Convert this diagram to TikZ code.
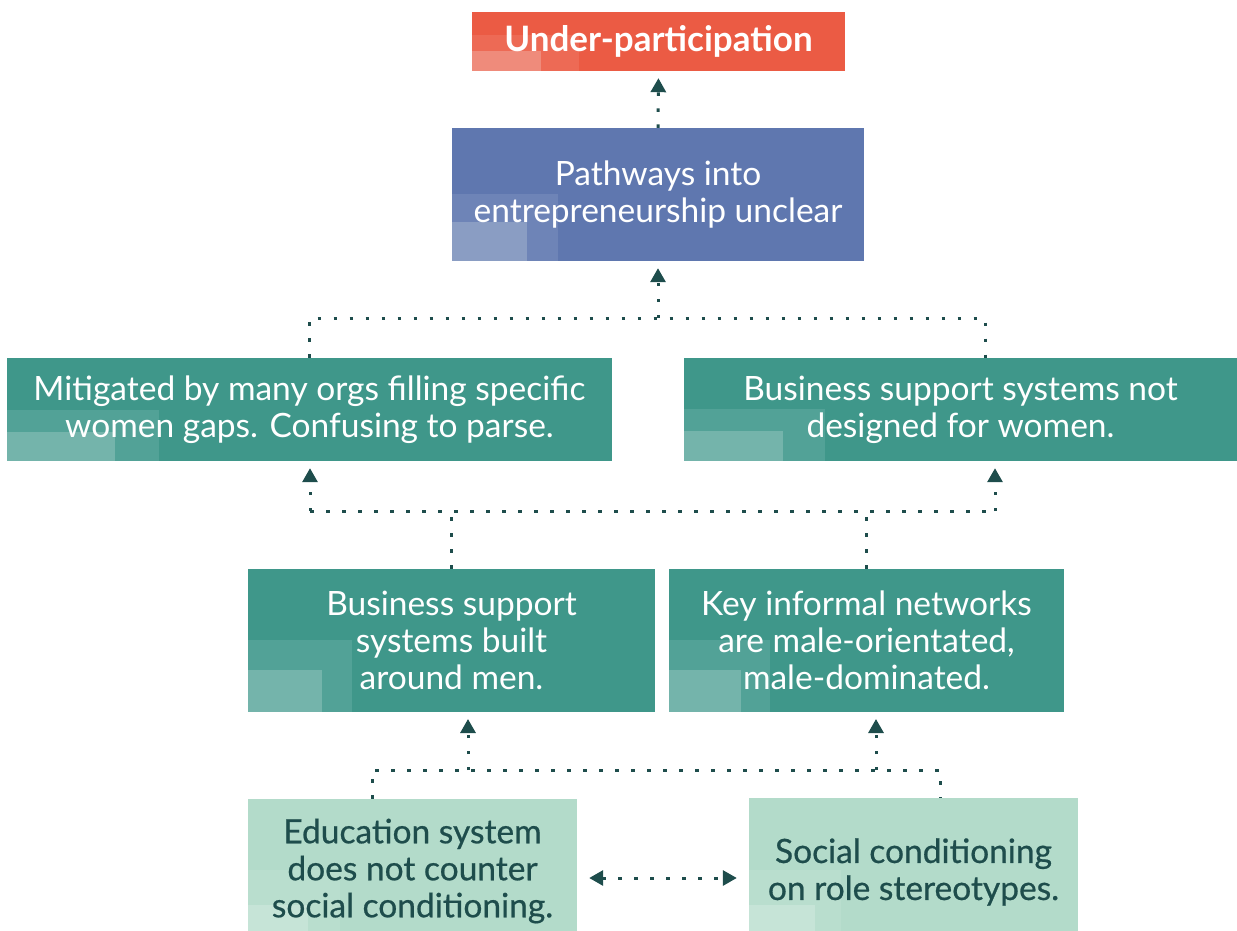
\documentclass[tikz,border=0pt]{standalone}
\usepackage{fontspec}
\setmainfont{Lato}
\newfontfamily\inkfont[FakeBold=0.6]{Lato}
\usetikzlibrary{arrows.meta}

\definecolor{red0}{HTML}{EB5B44}
\definecolor{red1}{HTML}{ED6A55}
\definecolor{red2}{HTML}{EF8B7B}
\definecolor{blue0}{HTML}{5F77AF}
\definecolor{blue1}{HTML}{6E84B7}
\definecolor{blue2}{HTML}{8A9DC3}
\definecolor{teal0}{HTML}{3F978A}
\definecolor{teal1}{HTML}{52A297}
\definecolor{teal2}{HTML}{74B4AB}
\definecolor{mint0}{HTML}{B3DBCA}
\definecolor{mint1}{HTML}{B9DECE}
\definecolor{mint2}{HTML}{C6E4D7}
\definecolor{ink}{HTML}{1E4D4C}

\tikzset{
	box/.style={rectangle,inner sep=0pt,align=center,font=\fontsize{33.5}{37}\selectfont},
	mintbox/.style={box,fill=mint0},
	minttext/.style={box,text=ink,font=\fontsize{33.5}{37}\inkfont},
	corner/.style n args={6}{path picture={
		\fill[#1] (path picture bounding box.south west) rectangle ++(#2,-#3);
		\fill[#4] (path picture bounding box.south west) rectangle ++(#5,-#6);}},
	link/.style={draw=ink,line width=3pt,dash pattern=on 3.5pt off 12.5pt},
	up/.style={link,-{Triangle[width=15pt,length=14pt]},shorten >=7pt},
}

\begin{document}
\begin{tikzpicture}[x=1pt,y=-1pt]
	\useasboundingbox (0,0) rectangle (1237,931);
	% boxes
	\node[box,fill=red0,text=white,minimum width=373pt,minimum height=59pt,
		corner={red1}{107}{36}{red2}{69}{20},font=\fontsize{35}{37}\bfseries] (under) at (658.5,41.5) {Under-participation};
	\node[box,fill=blue0,text=white,minimum width=412pt,minimum height=133pt,
		corner={blue1}{106}{67}{blue2}{75}{39}] (path) at (658,194.5) {Pathways into\\entrepreneurship unclear};
	\node[box,fill=teal0,text=white,minimum width=605pt,minimum height=103pt,
		corner={teal1}{152}{51}{teal2}{108}{29}] (mitig) at (309.5,409.5) {Mitigated by many orgs filling specific\\women gaps. Confusing to parse.};
	\node[box,fill=teal0,text=white,minimum width=553pt,minimum height=103pt,
		corner={teal1}{141}{52}{teal2}{99}{30}] (notdes) at (960.5,409.5) {Business support systems not\\designed for women.};
	\node[box,fill=teal0,text=white,minimum width=407pt,minimum height=143pt,
		corner={teal1}{104}{72}{teal2}{74}{42}] (built) at (451.5,640.5) {Business support\\systems built\\around men.};
	\node[box,fill=teal0,text=white,minimum width=395pt,minimum height=143pt,
		corner={teal1}{101}{72}{teal2}{72}{42}] (netw) at (866.5,640.5) {Key informal networks\\are male-orientated,\\male-dominated.};
	\node[mintbox,minimum width=329pt,minimum height=132pt,
		corner={mint1}{92}{61}{mint2}{60}{26}] (edu) at (412.5,865) {};
	\node[minttext] (edutxt) at (412.5,871) {Education system\\does not counter\\social conditioning.};
	\node[mintbox,minimum width=329pt,minimum height=133pt,
		corner={mint1}{92}{61}{mint2}{66}{26}] (social) at (913.5,864.5) {};
	\node[minttext] (socialtxt) at (913.5,872) {Social conditioning\\on role stereotypes.};

	% junctions
	\coordinate (j3r) at (985,318);
	\coordinate (j4l) at (310,511);
	\coordinate (j4r) at (995,511);
	\coordinate (j5l) at (372,770);
	\coordinate (j5r) at (940,770);

	% connectors
	\draw[up] (path.north) -- (under.south);
	\draw[link] (mitig.north) |- (j3r) -- (j3r |- notdes.north);
	\draw[up] (path.south |- j3r) -- (path.south);
	\draw[link] (j4l) -- (j4r);
	\draw[up] (j4l) -- (j4l |- mitig.south);
	\draw[up] (j4r) -- (j4r |- notdes.south);
	\draw[link] (built.north) -- (built.north |- j4l);
	\draw[link] (netw.north) -- (netw.north |- j4l);
	\draw[link] (j5l |- edu.north) -- (j5l) -- (j5r) -- (j5r |- social.north);
	\draw[up] (468,770) -- (468,712);
	\draw[up] (876,770) -- (876,712);
	\draw[link,{Triangle[width=15pt,length=14pt]}-{Triangle[width=15pt,length=14pt]},shorten <=12pt,shorten >=12pt]
		(edu.east |- 0,878) -- (social.west |- 0,878);
\end{tikzpicture}
\end{document}
